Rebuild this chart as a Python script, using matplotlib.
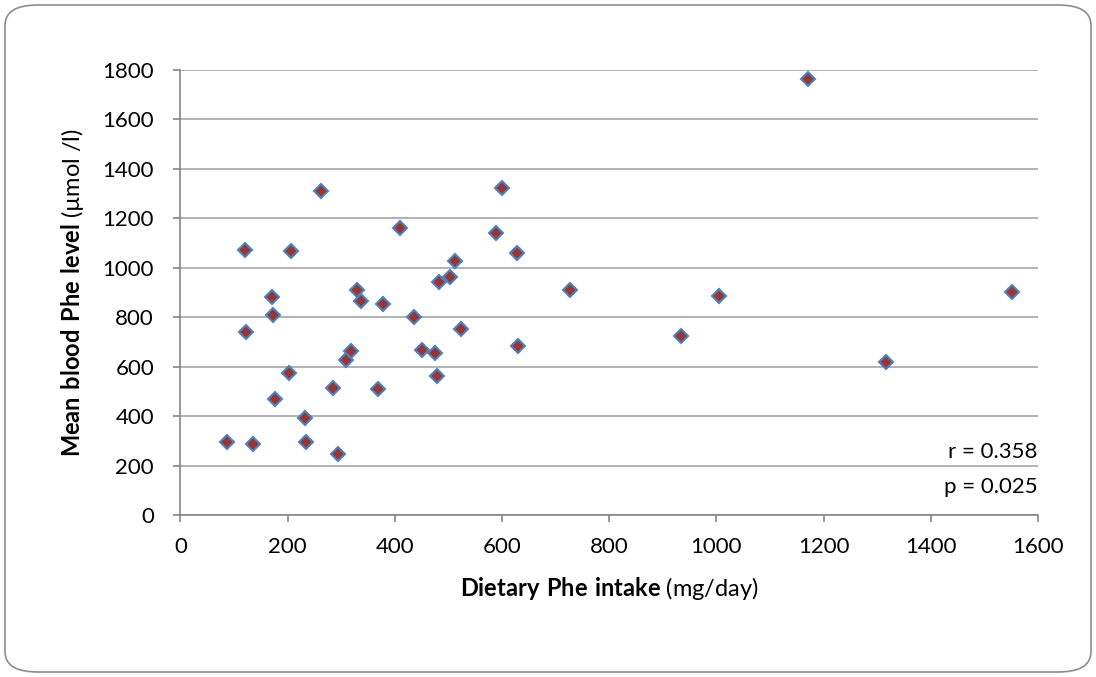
import matplotlib
matplotlib.use("Agg")
import matplotlib.pyplot as plt
from matplotlib.patches import FancyBboxPatch

# Dietary Phe intake (mg/day) vs mean blood Phe level (umol/l)
intake = [87, 120, 123, 135, 171, 172, 176, 207, 203, 232,
          235, 262, 284, 293, 309, 318, 330, 336, 369, 377,
          410, 435, 450, 475, 478, 482, 502, 512, 524, 589,
          600, 628, 629, 727, 934, 1004, 1170, 1317, 1552]
blood = [294, 1071, 741, 288, 882, 809, 471, 1069, 576, 392,
         294, 1312, 515, 247, 628, 665, 909, 866, 511, 852,
         1162, 801, 669, 656, 563, 941, 961, 1027, 754, 1140,
         1322, 1060, 682, 910, 724, 885, 1764, 619, 901]
xticks = [0, 200, 400, 600, 800, 1000, 1200, 1400, 1600]
yticks = [0, 200, 400, 600, 800, 1000, 1200, 1400, 1600, 1800]
stats = ["r = 0.358", "p = 0.025"]

plt.rcParams['font.family'] = ['Lato', 'DejaVu Sans']
plt.rcParams['mathtext.fontset'] = 'custom'
plt.rcParams['mathtext.rm'] = 'Lato'
plt.rcParams['mathtext.bf'] = 'Lato:bold'

fig = plt.figure(figsize=(10.96, 6.77), dpi=100)
W, H = 1096, 677

# rounded chart border
border = FancyBboxPatch((5 / W, 5 / H), 1086 / W, 667 / H,
                        boxstyle="round,pad=0,rounding_size=0.03",
                        transform=fig.transFigure, fc='white', ec='#8c8c8c',
                        lw=1.2, zorder=-1)
fig.patches.append(border)

ax = fig.add_axes([180.5 / W, 1 - 515 / H, (1038 - 180.5) / W, (515 - 70) / H])
ax.set_facecolor('none')

ax.plot(intake, blood, linestyle='none', marker='D', ms=7,
        mfc='#953735', mec='#4F81BD', mew=1.5, zorder=3, clip_on=False)

ax.set_xlim(0, 1600)
ax.set_ylim(0, 1800)
ax.set_xticks(xticks)
ax.set_yticks(yticks)
ax.yaxis.grid(True, color='#a6a6a6', lw=1.2)
ax.set_axisbelow(True)
for s in ['top', 'right']:
    ax.spines[s].set_visible(False)
for s in ['left', 'bottom']:
    ax.spines[s].set_color('#868686')
    ax.spines[s].set_linewidth(1.2)
ax.tick_params(colors='#868686', labelcolor='black', labelsize=16,
               length=5, width=1.2, direction='out')
ax.tick_params(axis='x', pad=11)
ax.tick_params(axis='y', pad=14)

ax.set_xlabel(r"$\mathbf{Dietary\ Phe\ intake}$ (mg/day)", fontsize=17, labelpad=13)
ax.set_ylabel(r"$\mathbf{Mean\ blood\ Phe\ level}$ (µmol /l)", fontsize=17, labelpad=12)

ax.text(1.0, 0.141, stats[0], transform=ax.transAxes, ha='right', va='center', fontsize=16)
ax.text(1.0, 0.063, stats[1], transform=ax.transAxes, ha='right', va='center', fontsize=16)

fig.savefig("out.png", dpi=100)
